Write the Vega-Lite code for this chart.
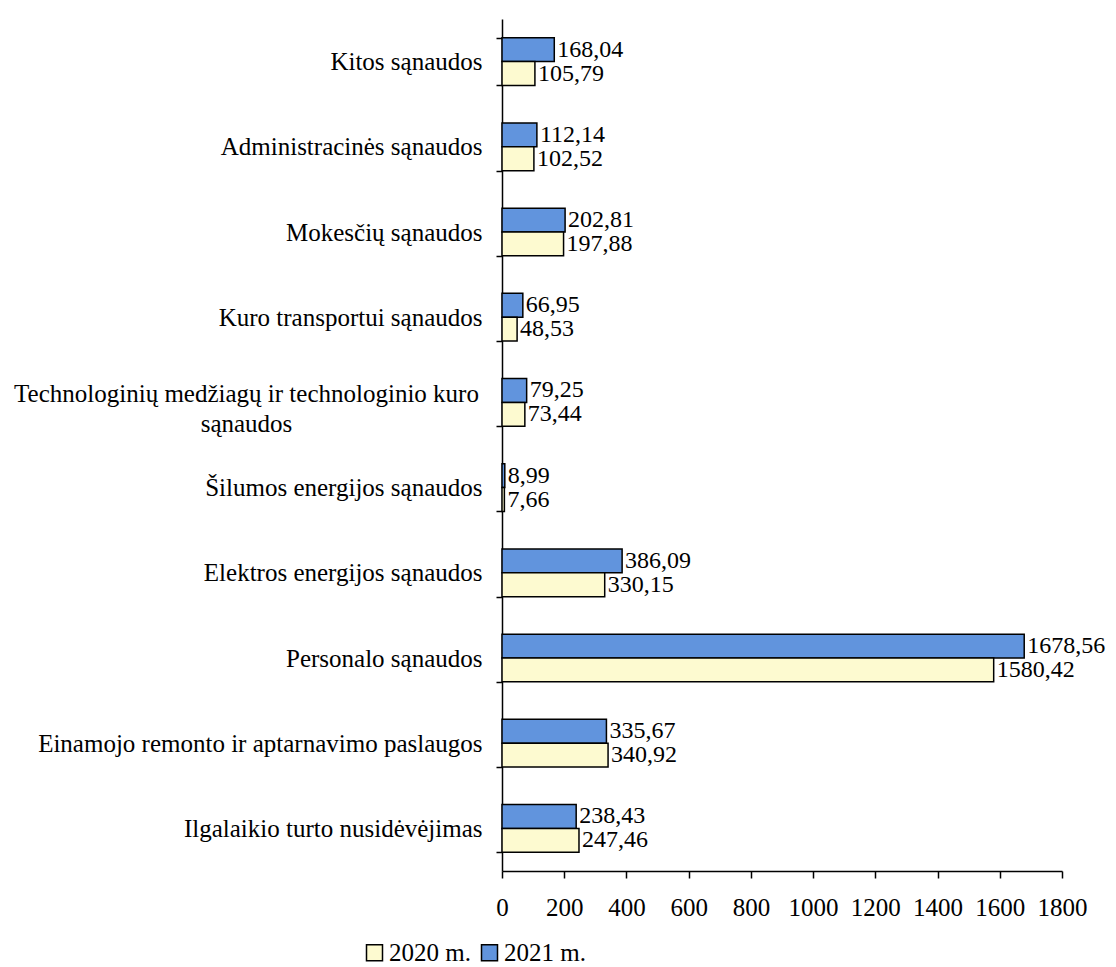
{
  "$schema": "https://vega.github.io/schema/vega-lite/v6.json",
  "width": 560,
  "height": 852,
  "autosize": "none",
  "padding": {"left": 502, "top": 19, "right": 54, "bottom": 96},
  "background": "white",
  "config": {
    "font": "Liberation Serif",
    "view": {"stroke": null},
    "axis": {"grid": false, "domainColor": "black", "tickColor": "black", "labelColor": "black", "labelFont": "Liberation Serif", "labelFontSize": 25, "domainWidth": 1.5, "tickWidth": 1.5}
  },
  "data": {
    "values": [
      {"category": "Kitos sąnaudos", "year": "2021 m.", "value": 168.04, "label": "168,04"},
      {"category": "Kitos sąnaudos", "year": "2020 m.", "value": 105.79, "label": "105,79"},
      {"category": "Administracinės sąnaudos", "year": "2021 m.", "value": 112.14, "label": "112,14"},
      {"category": "Administracinės sąnaudos", "year": "2020 m.", "value": 102.52, "label": "102,52"},
      {"category": "Mokesčių sąnaudos", "year": "2021 m.", "value": 202.81, "label": "202,81"},
      {"category": "Mokesčių sąnaudos", "year": "2020 m.", "value": 197.88, "label": "197,88"},
      {"category": "Kuro transportui sąnaudos", "year": "2021 m.", "value": 66.95, "label": "66,95"},
      {"category": "Kuro transportui sąnaudos", "year": "2020 m.", "value": 48.53, "label": "48,53"},
      {"category": "Technologinių medžiagų ir technologinio kuro sąnaudos", "year": "2021 m.", "value": 79.25, "label": "79,25"},
      {"category": "Technologinių medžiagų ir technologinio kuro sąnaudos", "year": "2020 m.", "value": 73.44, "label": "73,44"},
      {"category": "Šilumos energijos sąnaudos", "year": "2021 m.", "value": 8.99, "label": "8,99"},
      {"category": "Šilumos energijos sąnaudos", "year": "2020 m.", "value": 7.66, "label": "7,66"},
      {"category": "Elektros energijos sąnaudos", "year": "2021 m.", "value": 386.09, "label": "386,09"},
      {"category": "Elektros energijos sąnaudos", "year": "2020 m.", "value": 330.15, "label": "330,15"},
      {"category": "Personalo sąnaudos", "year": "2021 m.", "value": 1678.56, "label": "1678,56"},
      {"category": "Personalo sąnaudos", "year": "2020 m.", "value": 1580.42, "label": "1580,42"},
      {"category": "Einamojo remonto ir aptarnavimo paslaugos", "year": "2021 m.", "value": 335.67, "label": "335,67"},
      {"category": "Einamojo remonto ir aptarnavimo paslaugos", "year": "2020 m.", "value": 340.92, "label": "340,92"},
      {"category": "Ilgalaikio turto nusidėvėjimas", "year": "2021 m.", "value": 238.43, "label": "238,43"},
      {"category": "Ilgalaikio turto nusidėvėjimas", "year": "2020 m.", "value": 247.46, "label": "247,46"}
    ]
  },
  "encoding": {
    "y": {
      "field": "category", "type": "nominal", "sort": null,
      "scale": {"paddingInner": 0.44, "paddingOuter": 0.22},
      "axis": {
        "title": null, "tickBand": "extent", "tickSize": 6, "labelLimit": 0,
        "labelExpr": "datum.label == 'Technologinių medžiagų ir technologinio kuro sąnaudos' ? ['Technologinių medžiagų ir technologinio kuro', 'sąnaudos'] : datum.label",
        "labelLineHeight": 30,
        "labelAlign": {"condition": {"test": "datum.value == 'Technologinių medžiagų ir technologinio kuro sąnaudos'", "value": "center"}, "value": "right"},
        "labelPadding": {"condition": {"test": "datum.value == 'Technologinių medžiagų ir technologinio kuro sąnaudos'", "value": 250}, "value": 14},
        "labelOffset": {"condition": {"test": "datum.value == 'Technologinių medžiagų ir technologinio kuro sąnaudos'", "value": -9}, "value": 0}
      }
    },
    "yOffset": {"field": "year", "type": "nominal", "scale": {"domain": ["2021 m.", "2020 m."]}},
    "x": {
      "field": "value", "type": "quantitative",
      "scale": {"domain": [0, 1800], "nice": false},
      "axis": {"title": null, "values": [0, 200, 400, 600, 800, 1000, 1200, 1400, 1600, 1800], "format": "d", "labelOverlap": false, "labelFlush": false, "tickSize": 7, "labelPadding": 17}
    }
  },
  "layer": [
    {
      "mark": {"type": "bar", "stroke": "black", "strokeWidth": 1.5},
      "encoding": {
        "color": {
          "field": "year", "type": "nominal",
          "scale": {"domain": ["2020 m.", "2021 m."], "range": ["#fdfad0", "#6194dd"]},
          "legend": {
            "title": null, "orient": "none", "direction": "horizontal",
            "legendX": -140, "legendY": 921,
            "symbolType": "square", "symbolSize": 256, "symbolStrokeColor": "black", "symbolStrokeWidth": 1.5,
            "labelFont": "Liberation Serif", "labelFontSize": 25, "labelColor": "black", "labelOffset": 2, "columnPadding": 6
          }
        }
      }
    },
    {
      "mark": {"type": "text", "align": "left", "baseline": "middle", "dx": 3, "fontSize": 24, "font": "Liberation Serif", "color": "black"},
      "encoding": {"text": {"field": "label"}}
    }
  ]
}
